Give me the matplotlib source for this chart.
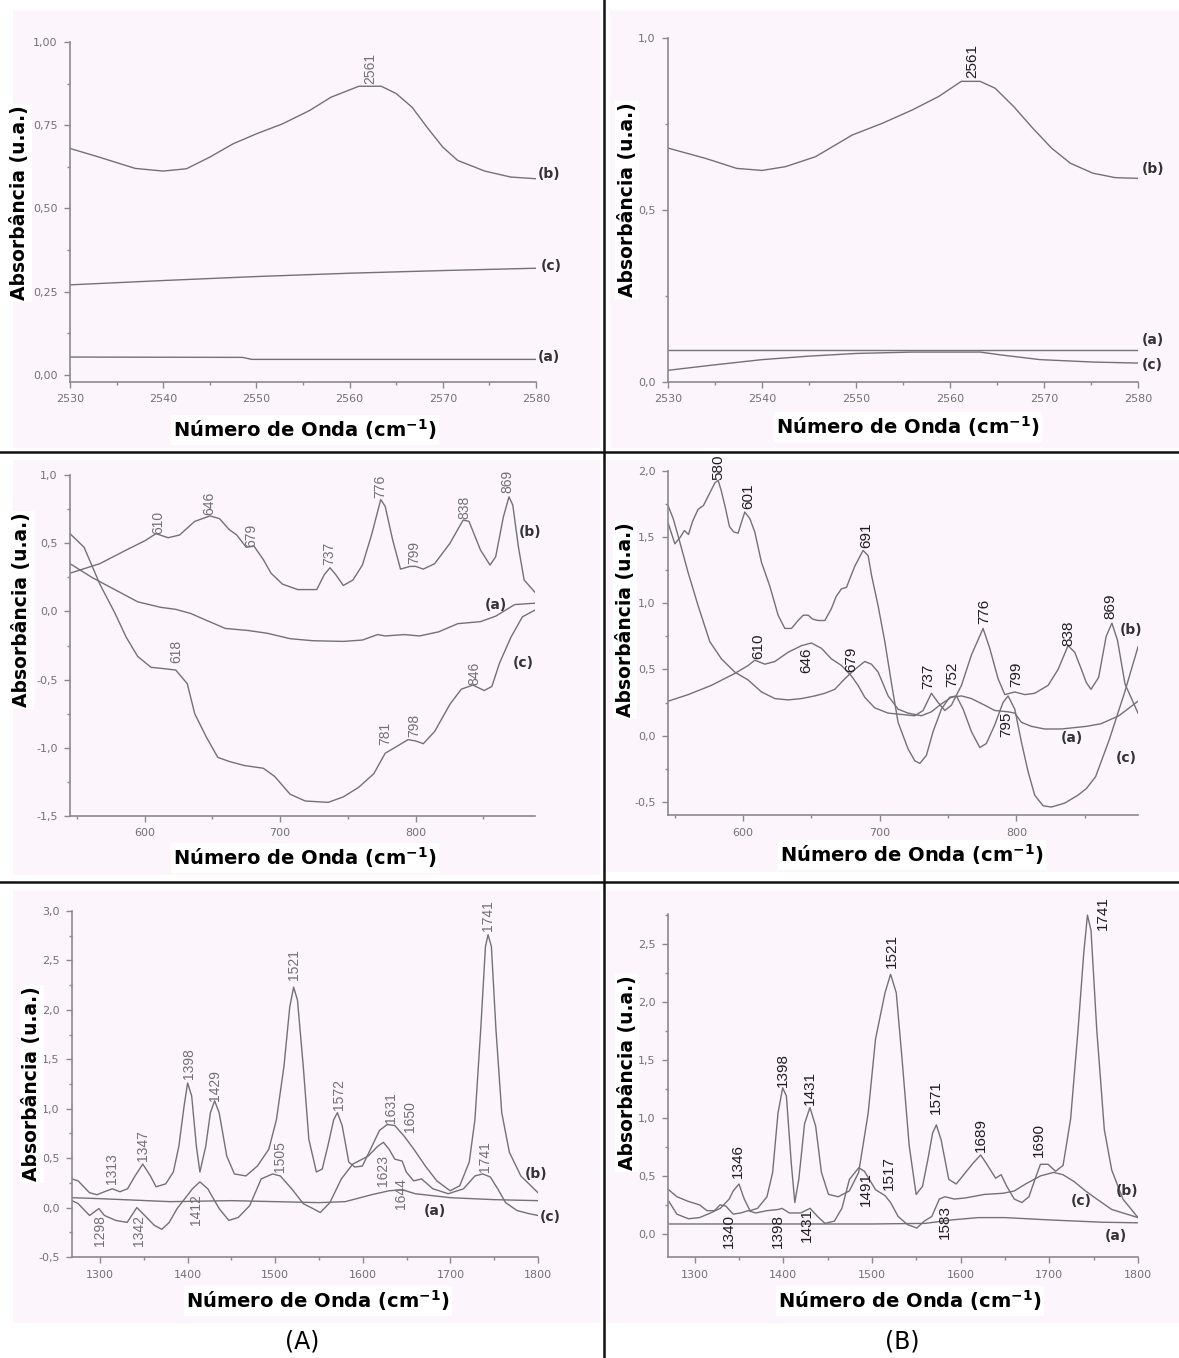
import matplotlib
matplotlib.use('Agg')
import matplotlib.pyplot as plt
from matplotlib.ticker import MultipleLocator, FuncFormatter
from matplotlib.patches import Rectangle
from matplotlib.lines import Line2D

#============ data ===========

# top left (A), 2530-2580 cm-1
tl_b_wn = [2530, 2533, 2537, 2540, 2542.5, 2545, 2547.5, 2550, 2552.8, 2555.7, 2558, 2561,
           2563.4, 2565, 2566.7, 2568.3, 2570, 2571.6, 2574.5, 2577.3, 2580]
tl_b_abs = [0.68, 0.655, 0.62, 0.612, 0.619, 0.654, 0.694, 0.724, 0.754, 0.794, 0.834, 0.867,
            0.867, 0.845, 0.804, 0.744, 0.684, 0.644, 0.612, 0.594, 0.589]
tl_c_wn = [2530, 2540, 2550, 2560, 2570, 2580]
tl_c_abs = [0.27, 0.283, 0.295, 0.305, 0.313, 0.32]
tl_a_wn = [2530, 2548.5, 2549.5, 2580]
tl_a_abs = [0.053, 0.052, 0.046, 0.046]

# top right (B)
tr_b_wn = [2530, 2534, 2537.3, 2540, 2542.5, 2545.7, 2549.6, 2552.8, 2556, 2558.8, 2561.2,
           2563.2, 2564.8, 2566.8, 2568.8, 2570.8, 2572.8, 2575.2, 2577.6, 2580]
tr_b_abs = [0.68, 0.65, 0.621, 0.615, 0.626, 0.655, 0.718, 0.752, 0.791, 0.83, 0.874,
            0.874, 0.854, 0.80, 0.738, 0.68, 0.636, 0.607, 0.594, 0.592]
tr_a_wn = [2530, 2580]
tr_a_abs = [0.092, 0.092]
tr_c_wn = [2530, 2535, 2540, 2544.9, 2550, 2556, 2563.2, 2565.6, 2569.6, 2575.2, 2580]
tr_c_abs = [0.034, 0.05, 0.065, 0.075, 0.083, 0.087, 0.087, 0.078, 0.065, 0.058, 0.055]

# middle left (A), 545-888 cm-1
ml_b_wn = [545, 567, 586.5, 600.6, 608.4, 617.4, 625.8, 637, 648.3, 655.3, 662.4, 668, 675,
           680.6, 687.6, 693.3, 701.7, 713, 727, 732.6, 736.8, 741, 746.6, 753.7, 760.7, 767.7,
           774.2, 777.5, 783.1, 788.8, 795.8, 800, 805.6, 814, 825.3, 835, 839.3, 847.8, 854.8,
           859, 864.6, 868.8, 871.6, 875.8, 880, 888]
ml_b_abs = [0.28, 0.35, 0.45, 0.52, 0.57, 0.54, 0.56, 0.66, 0.70, 0.68, 0.60, 0.56, 0.47,
            0.48, 0.38, 0.28, 0.20, 0.16, 0.16, 0.27, 0.32, 0.27, 0.19, 0.23, 0.34, 0.57,
            0.82, 0.77, 0.52, 0.31, 0.33, 0.33, 0.31, 0.35, 0.50, 0.67, 0.66, 0.45, 0.34,
            0.40, 0.69, 0.84, 0.78, 0.47, 0.23, 0.14]
ml_a_wn = [545, 561, 578, 595, 611.8, 623, 634, 645.5, 659.6, 676.4, 690.4, 707.3, 724, 746.6,
           760.7, 771.9, 777.5, 791.6, 802.8, 816.9, 831, 847.8, 859, 873, 888]
ml_a_abs = [0.35, 0.25, 0.16, 0.07, 0.03, 0.015, -0.015, -0.065, -0.125, -0.14, -0.16, -0.20,
            -0.215, -0.22, -0.21, -0.17, -0.18, -0.17, -0.18, -0.15, -0.09, -0.075, -0.035,
            0.05, 0.06]
ml_c_wn = [545, 555.4, 567, 578, 586.5, 594.9, 604.8, 614.6, 623, 631.5, 637, 645.5, 654,
           662.4, 673.6, 687.6, 696, 707.3, 718.5, 735.4, 746.6, 757.9, 769.1, 777.5, 786,
           794.4, 800, 805.6, 814, 825.3, 833.7, 842.1, 850.6, 856.2, 861.8, 870.2, 878.7, 888]
ml_c_abs = [0.57, 0.47, 0.20, -0.01, -0.19, -0.33, -0.41, -0.42, -0.43, -0.53, -0.75, -0.92,
            -1.07, -1.10, -1.13, -1.15, -1.21, -1.34, -1.39, -1.40, -1.36, -1.29, -1.19, -1.04,
            -0.99, -0.94, -0.95, -0.97, -0.88, -0.68, -0.57, -0.54, -0.58, -0.55, -0.38, -0.19,
            -0.04, 0.01]

# middle right (B)
mr_c_wn = [545, 550, 554, 557, 560, 563, 567, 571, 574.4, 579.3, 581.7, 584, 586.6, 590, 593,
           596.3, 599, 601.2, 604.9, 608.5, 613.4, 619.5, 625.6, 630.5, 635.4, 640.2, 644,
           647.6, 651, 654.9, 659.8, 664.6, 668, 672, 675.6, 681.7, 687.8, 691.5, 694, 698.8,
           703.7, 708.5, 713.4, 720.7, 725.6, 729.3, 734.1, 739, 745.1, 751.2, 756.1, 761,
           767.1, 773.2, 778, 784.1, 790.2, 793.9, 798.8, 803.7, 808.5, 813.4, 819.5, 825.6,
           835.4, 845.1, 851.2, 858, 868, 879, 889]
mr_c_abs = [1.61, 1.45, 1.50, 1.55, 1.52, 1.62, 1.71, 1.74, 1.81, 1.91, 1.93, 1.85, 1.74, 1.58,
            1.54, 1.53, 1.62, 1.69, 1.64, 1.54, 1.31, 1.13, 0.91, 0.81, 0.81, 0.87, 0.91,
            0.91, 0.88, 0.87, 0.87, 0.96, 1.05, 1.11, 1.12, 1.28, 1.40, 1.36, 1.21, 0.98,
            0.71, 0.40, 0.10, -0.10, -0.19, -0.21, -0.15, 0.03, 0.20, 0.29, 0.30, 0.20,
            0.03, -0.09, -0.06, 0.08, 0.25, 0.30, 0.20, -0.05, -0.27, -0.45, -0.53, -0.54,
            -0.51, -0.45, -0.40, -0.31, -0.03, 0.32, 0.67]
mr_a_wn = [545, 548.8, 552.4, 559.8, 567.1, 575.6, 584.1, 593.9, 603.7, 613.4, 623.2, 632.9,
           642.7, 652.4, 659.8, 667.1, 674.4, 681.7, 689, 693.9, 698.8, 706.1, 713.4, 720.7,
           730.5, 737.8, 745.1, 752.4, 759.8, 767.1, 776.8, 784.1, 793.9, 798.8, 803.7, 811,
           820.7, 832.9, 851.2, 862, 875, 889]
mr_a_abs = [1.74, 1.64, 1.51, 1.23, 0.98, 0.71, 0.58, 0.48, 0.42, 0.33, 0.28, 0.27,
            0.28, 0.30, 0.32, 0.35, 0.43, 0.50, 0.56, 0.54, 0.48, 0.30, 0.20, 0.17,
            0.15, 0.18, 0.24, 0.29, 0.30, 0.28, 0.23, 0.19, 0.18, 0.17, 0.10, 0.07,
            0.05, 0.05, 0.07, 0.09, 0.15, 0.26]
mr_b_wn = [545, 559.8, 576.8, 593.9, 603.7, 608.5, 615.9, 623.2, 632.9, 642.7, 650, 657.3,
           664.6, 672, 679.3, 684.1, 689, 696.3, 706.1, 715.9, 725.6, 731.7, 737.8, 742.7,
           747.6, 752.4, 759.8, 767.1, 775.6, 780.5, 786.6, 791.5, 798.8, 806.1, 813.4, 823.2,
           830.5, 837.8, 842.7, 847.6, 851.2, 854.6, 860.2, 865.7, 869.9, 874, 879.5, 889]
mr_b_abs = [0.26, 0.31, 0.38, 0.47, 0.53, 0.57, 0.54, 0.56, 0.63, 0.68, 0.70, 0.66,
            0.58, 0.53, 0.45, 0.38, 0.29, 0.21, 0.17, 0.16, 0.15, 0.19, 0.32, 0.25,
            0.19, 0.23, 0.38, 0.61, 0.81, 0.66, 0.43, 0.31, 0.33, 0.31, 0.32, 0.38,
            0.50, 0.68, 0.63, 0.50, 0.40, 0.35, 0.44, 0.75, 0.85, 0.72, 0.39, 0.17]

# bottom left (A), 1267-1800 cm-1
bl_b_wn = [1268, 1275, 1288, 1296.5, 1305, 1314, 1322.7, 1331.4, 1340, 1348.8, 1357.5, 1364,
           1375, 1383.7, 1390, 1396, 1400, 1404.6, 1410, 1414, 1420.7, 1426, 1430.8, 1436,
           1444.7, 1453.4, 1466.5, 1479.6, 1492.7, 1501.4, 1510, 1516.6, 1521, 1525.4, 1532,
           1538.4, 1547, 1553.7, 1560, 1566.8, 1571, 1576.4, 1584, 1590.8, 1599.5, 1610.4,
           1619, 1627.8, 1636.5, 1647.4, 1658.3, 1671.4, 1684.5, 1699.7, 1710.6, 1721.5, 1728,
           1734.6, 1740, 1743, 1746.8, 1752, 1758.6, 1767.3, 1780.4, 1800]
bl_b_abs = [0.29, 0.27, 0.15, 0.13, 0.16, 0.19, 0.16, 0.19, 0.32, 0.44, 0.32, 0.21,
            0.24, 0.36, 0.62, 1.03, 1.26, 1.13, 0.62, 0.36, 0.62, 0.96, 1.08, 0.96,
            0.52, 0.34, 0.32, 0.42, 0.59, 0.89, 1.43, 2.03, 2.23, 2.10, 1.43,
            0.69, 0.36, 0.39, 0.62, 0.89, 0.96, 0.83, 0.46, 0.41, 0.42, 0.62,
            0.78, 0.84, 0.83, 0.72, 0.59, 0.42, 0.27, 0.17, 0.22, 0.46, 0.89,
            1.80, 2.64, 2.76, 2.64, 1.80, 0.96, 0.56, 0.32, 0.15]
bl_c_wn = [1268, 1275, 1288, 1298.7, 1305, 1318, 1331, 1342, 1351, 1362, 1370.6, 1379, 1388,
           1396.8, 1405.5, 1414, 1423, 1436, 1447, 1457.8, 1470.9, 1484, 1497, 1505.8, 1518.8,
           1532, 1543, 1551.5, 1562.4, 1575.5, 1588.6, 1606, 1617, 1623.5, 1630, 1636.5, 1645,
           1649.6, 1658, 1667, 1680, 1697.5, 1715, 1728, 1736.8, 1745.5, 1754, 1763, 1776,
           1789, 1800]
bl_c_abs = [0.07, 0.04, -0.08, -0.01, -0.08, -0.13, -0.15, 0.00, -0.08, -0.18, -0.22, -0.15,
            -0.01, 0.09, 0.19, 0.26, 0.19, -0.01, -0.13, -0.10, 0.02, 0.29, 0.34, 0.32, 0.19,
            0.04, -0.01, -0.05, 0.05, 0.29, 0.44, 0.52, 0.62, 0.66, 0.59, 0.49, 0.47,
            0.36, 0.27, 0.29, 0.19, 0.14, 0.19, 0.32, 0.34, 0.31, 0.19, 0.05, -0.03,
            -0.06, -0.08]
bl_a_wn = [1268, 1300, 1380, 1450, 1550, 1580, 1610, 1630, 1645, 1660, 1700, 1750, 1800]
bl_a_abs = [0.10, 0.09, 0.06, 0.07, 0.05, 0.06, 0.13, 0.17, 0.18, 0.14, 0.10, 0.08, 0.07]

# bottom right (B)
br_b_wn = [1271, 1280, 1293, 1305.5, 1318, 1329, 1339, 1343.5, 1350, 1356, 1362.5, 1371,
           1381.6, 1388, 1394, 1399.3, 1403.5, 1409, 1413, 1417.5, 1424, 1430, 1436.5, 1443,
           1451, 1462, 1474.5, 1485, 1495.7, 1504, 1514.7, 1521, 1527.4, 1533.7, 1542, 1549.8,
           1557, 1563, 1568.4, 1572.6, 1578, 1586.6, 1595, 1605.6, 1614, 1622.5, 1628.8,
           1639.4, 1645.7, 1652, 1660.5, 1669, 1677, 1683.8, 1690, 1698.6, 1707, 1715.5, 1724,
           1732.4, 1738.8, 1743, 1747, 1753.5, 1762, 1770.4, 1783, 1800]
br_b_abs = [0.28, 0.17, 0.13, 0.14, 0.18, 0.22, 0.30, 0.37, 0.43, 0.30, 0.20, 0.22,
            0.32, 0.53, 1.04, 1.26, 1.19, 0.61, 0.27, 0.47, 0.95, 1.09, 0.93, 0.53,
            0.34, 0.32, 0.37, 0.53, 1.04, 1.68, 2.08, 2.24, 2.08, 1.53, 0.76, 0.34,
            0.41, 0.64, 0.87, 0.94, 0.81, 0.47, 0.43, 0.53, 0.61, 0.68, 0.61,
            0.48, 0.51, 0.41, 0.30, 0.27, 0.32, 0.47, 0.60, 0.60, 0.54, 0.59, 0.99,
            1.76, 2.42, 2.75, 2.62, 1.76, 0.90, 0.55, 0.30, 0.14]
br_c_wn = [1270.8, 1280.1, 1292.8, 1305.5, 1314, 1322.4, 1328.7, 1335.1, 1343.5, 1352, 1360.4,
           1368.9, 1381.6, 1394.3, 1398.5, 1406.9, 1419.6, 1430.2, 1438.6, 1447.1, 1457.6,
           1466.1, 1474.6, 1485.1, 1491.5, 1504.1, 1514.7, 1521, 1529.5, 1540, 1550.6, 1559.1,
           1567.5, 1576, 1582.3, 1592.9, 1605.6, 1626.7, 1647.8, 1660.5, 1673.2, 1690.1,
           1704.9, 1715.5, 1728.1, 1740.8, 1753.5, 1770.4, 1787.3, 1800]
br_c_abs = [0.38, 0.32, 0.28, 0.25, 0.20, 0.20, 0.25, 0.24, 0.17, 0.18, 0.20,
            0.18, 0.20, 0.21, 0.22, 0.18, 0.18, 0.22, 0.15, 0.09, 0.11,
            0.22, 0.47, 0.57, 0.54, 0.38, 0.33, 0.27, 0.15, 0.08, 0.05, 0.11,
            0.15, 0.30, 0.32, 0.30, 0.31, 0.34, 0.35, 0.37, 0.43, 0.50,
            0.53, 0.51, 0.45, 0.37, 0.30, 0.21, 0.17, 0.14]
br_a_wn = [1271, 1400, 1500, 1560, 1590, 1620, 1650, 1700, 1760, 1800]
br_a_abs = [0.085, 0.085, 0.085, 0.09, 0.12, 0.14, 0.14, 0.12, 0.10, 0.095]

# peak labels: (text, wavenumber, absorbance, 'up' above the point / 'down' below it)
tl_peaks = [('2561', 2562.2, 0.875, 'up')]
tr_peaks = [('2561', 2562.4, 0.885, 'up')]
ml_peaks = [('610', 610.4, 0.57, 'up'), ('646', 647.8, 0.71, 'up'), ('679', 679, 0.47, 'up'),
            ('737', 736, 0.34, 'up'), ('776', 774, 0.83, 'up'), ('799', 798.6, 0.35, 'up'),
            ('838', 836, 0.68, 'up'), ('869', 867.4, 0.87, 'up'), ('618', 623.6, -0.38, 'up'),
            ('781', 777.5, -0.98, 'up'), ('798', 798.6, -0.92, 'up'), ('846', 843.5, -0.54, 'up')]
mr_peaks = [('580', 581.7, 1.93, 'up'), ('601', 603.7, 1.71, 'up'), ('691', 690.2, 1.42, 'up'),
            ('610', 611, 0.58, 'up'), ('646', 646.3, 0.47, 'up'), ('679', 679.3, 0.48, 'up'),
            ('737', 735.4, 0.35, 'up'), ('752', 752.9, 0.37, 'up'), ('776', 776.8, 0.84, 'up'),
            ('799', 800, 0.37, 'up'), ('838', 837.8, 0.68, 'up'), ('869', 868.5, 0.88, 'up'),
            ('795', 792.7, 0.18, 'down')]
bl_peaks = [('1313', 1314, 0.24, 'up'), ('1347', 1349, 0.47, 'up'), ('1398', 1401, 1.30, 'up'),
            ('1429', 1431.6, 1.08, 'up'), ('1521', 1522, 2.30, 'up'), ('1572', 1573, 0.99, 'up'),
            ('1631', 1632, 0.86, 'up'), ('1650', 1654, 0.76, 'up'), ('1741', 1743, 2.80, 'up'),
            ('1505', 1505.8, 0.36, 'up'), ('1741', 1739, 0.36, 'up'),
            ('1623', 1623, 0.53, 'down'), ('1644', 1644, 0.30, 'down'), ('1298', 1300, -0.08, 'down'),
            ('1342', 1344, -0.08, 'down'), ('1412', 1410, 0.14, 'down')]
br_peaks = [('1346', 1349, 0.48, 'up'), ('1398', 1399, 1.27, 'up'), ('1431', 1430, 1.11, 'up'),
            ('1521', 1523, 2.29, 'up'), ('1571', 1572, 1.03, 'up'), ('1689', 1622.5, 0.71, 'up'),
            ('1690', 1688, 0.66, 'up'), ('1741', 1760, 2.62, 'up'), ('1517', 1519, 0.38, 'up'),
            ('1491', 1493.6, 0.53, 'down'), ('1583', 1582, 0.25, 'down'), ('1340', 1339, 0.17, 'down'),
            ('1398', 1394, 0.17, 'down'), ('1431', 1427, 0.22, 'down')]

# curve names: (text, wavenumber, absorbance)
tl_names = [('(b)', 2580.2, 0.604), ('(c)', 2580.5, 0.328), ('(a)', 2580.2, 0.052)]
tr_names = [('(b)', 2580.4, 0.618), ('(a)', 2580.4, 0.121), ('(c)', 2580.4, 0.049)]
ml_names = [('(b)', 875.8, 0.58), ('(a)', 850.6, 0.046), ('(c)', 871.6, -0.38)]
mr_names = [('(b)', 875.5, 0.80), ('(a)', 832.4, -0.02), ('(c)', 872.5, -0.17)]
bl_names = [('(b)', 1784.8, 0.34), ('(c)', 1802, -0.10), ('(a)', 1669, -0.03)]
br_names = [('(b)', 1774.6, 0.37), ('(c)', 1724, 0.28), ('(a)', 1762, -0.02)]

#============ figure ===========

W, H = 1179, 1358
fig = plt.figure(figsize=(W / 100, H / 100), dpi=100)
fig.patch.set_facecolor('white')

PINK = '#fcf5fb'
LINE = '#727272'
TICK = '#8a8a8a'


def px_rect(x0, y0, x1, y1):
    fig.patches.append(Rectangle((x0 / W, 1 - y1 / H), (x1 - x0) / W, (y1 - y0) / H,
                                 transform=fig.transFigure, facecolor=PINK, edgecolor='none',
                                 zorder=-5))


for r in [(13, 10, 600, 448), (610, 10, 1179, 448), (13, 460, 600, 875),
          (607, 460, 1179, 872), (13, 890, 600, 1323), (607, 890, 1179, 1323)]:
    px_rect(*r)

# black dividers
fig.lines.append(Line2D([604 / W, 604 / W], [0, 1], transform=fig.transFigure,
                        color='#111111', lw=1.8))
for yy in [452, 882]:
    fig.lines.append(Line2D([0, 1], [1 - yy / H, 1 - yy / H], transform=fig.transFigure,
                            color='#111111', lw=1.8))


def fmt_y(dec):
    def f(v, p):
        s = f'{v:.{dec}f}'.replace('.', ',')
        return s.lstrip('-') if abs(v) < 1e-9 else s
    return FuncFormatter(f)


def panel(box, xlim, ylim, xstep, ystep, ydec, curves, peaks, names, dark):
    l, t, r, b = box
    ax = fig.add_axes([l / W, 1 - b / H, (r - l) / W, (b - t) / H])
    ax.set_facecolor('none')
    for wn, ab in curves:
        ax.plot(wn, ab, color=LINE, lw=1.0)
    ax.set_xlim(*xlim)
    ax.set_ylim(*ylim)
    for s in ['top', 'right']:
        ax.spines[s].set_visible(False)
    for s in ['left', 'bottom']:
        ax.spines[s].set_color(TICK)
        ax.spines[s].set_linewidth(1.2)
    ax.xaxis.set_major_locator(MultipleLocator(xstep))
    ax.xaxis.set_minor_locator(MultipleLocator(xstep / 2))
    ax.yaxis.set_major_locator(MultipleLocator(ystep))
    ax.yaxis.set_minor_locator(MultipleLocator(ystep / 2))
    ax.xaxis.set_major_formatter(FuncFormatter(lambda v, p: f'{v:.0f}'))
    ax.yaxis.set_major_formatter(fmt_y(ydec))
    ax.tick_params(which='major', direction='out', length=4, width=1, color=TICK,
                   labelsize=8, labelcolor='#727272', pad=5)
    ax.tick_params(which='minor', direction='out', length=2, width=1, color=TICK)

    pk_color = '#1e1e1e' if dark else '#707070'
    pk_size = 11 if dark else 10
    for txt, x, y, d in peaks:
        ax.text(x, y, txt, rotation=90, ha='center', va='bottom' if d == 'up' else 'top',
                fontsize=pk_size, color=pk_color, family='Liberation Sans')
    for txt, x, y in names:
        ax.text(x, y, txt, ha='left', va='center', fontsize=10, fontweight='bold',
                color='#333333')
    return ax


panel((70, 42, 536, 382), (2530, 2580), (-0.022, 1.0), 10, 0.25, 2,
      [(tl_b_wn, tl_b_abs), (tl_c_wn, tl_c_abs), (tl_a_wn, tl_a_abs)], tl_peaks, tl_names, False)
panel((668, 38, 1138, 382), (2530, 2580), (0.0, 1.0), 10, 0.5, 1,
      [(tr_b_wn, tr_b_abs), (tr_a_wn, tr_a_abs), (tr_c_wn, tr_c_abs)], tr_peaks, tr_names, True)
panel((70, 475, 535, 816), (545, 888), (-1.5, 1.0), 100, 0.5, 1,
      [(ml_b_wn, ml_b_abs), (ml_a_wn, ml_a_abs), (ml_c_wn, ml_c_abs)], ml_peaks, ml_names, False)
panel((668, 471, 1138, 815), (545, 889), (-0.6, 2.0), 100, 0.5, 1,
      [(mr_c_wn, mr_c_abs), (mr_a_wn, mr_a_abs), (mr_b_wn, mr_b_abs)], mr_peaks, mr_names, True)
panel((72, 911, 538, 1257), (1268, 1800), (-0.5, 3.0), 100, 0.5, 1,
      [(bl_b_wn, bl_b_abs), (bl_c_wn, bl_c_abs), (bl_a_wn, bl_a_abs)], bl_peaks, bl_names, False)
panel((668, 914, 1138, 1257), (1270, 1800), (-0.2, 2.76), 100, 0.5, 1,
      [(br_b_wn, br_b_abs), (br_c_wn, br_c_abs), (br_a_wn, br_a_abs)], br_peaks, br_names, True)

# axis titles with white boxes, in pixel positions
ylab_pos = [(20, 203), (627, 200), (22, 610), (625, 620), (32, 1084), (627, 1073)]
xlab_pos = [(305, 430), (908, 427), (305, 858), (912, 855), (318, 1301), (910, 1301)]
box = dict(facecolor='white', edgecolor='none', pad=1.5)
for x, y in ylab_pos:
    fig.text(x / W, 1 - y / H, 'Absorbância (u.a.)', rotation=90, ha='center', va='center',
             fontsize=13.5, fontweight='bold', bbox=box)
for x, y in xlab_pos:
    fig.text(x / W, 1 - y / H, r'Número de Onda (cm$^{\mathbf{-1}}$)', ha='center',
             va='center', fontsize=14, fontweight='bold', bbox=box)

fig.text(302 / W, 1 - 1341 / H, '(A)', ha='center', va='center', fontsize=17)
fig.text(902 / W, 1 - 1341 / H, '(B)', ha='center', va='center', fontsize=17)

fig.savefig('out.png', dpi=100, facecolor='white')
